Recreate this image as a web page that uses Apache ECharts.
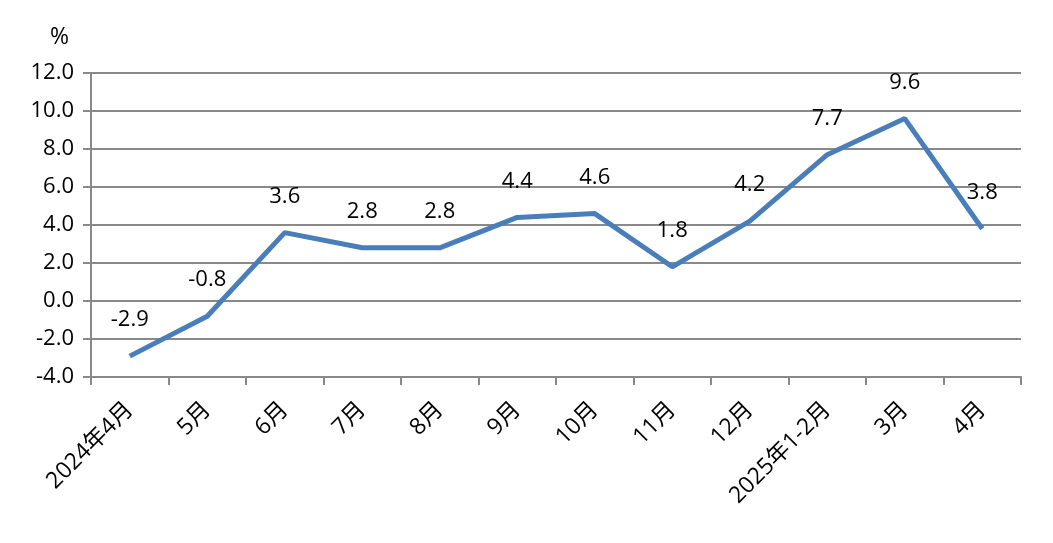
<!DOCTYPE html>
<html><head><meta charset="utf-8">
<script src="https://cdn.jsdelivr.net/npm/echarts@6/dist/echarts.min.js"></script>
<style>html,body{margin:0;padding:0;background:#fff}#c{width:1053px;height:543px}</style>
</head><body><div id="c"></div>
<script>
var categories = ['2024年4月','5月','6月','7月','8月','9月','10月','11月','12月','2025年1-2月','3月','4月'];
var values = [-2.9,-0.8,3.6,2.8,2.8,4.4,4.6,1.8,4.2,7.7,9.6,3.8];
var yTicks = {min:-4, max:12, interval:2};
var FONT = '"Open Sans","Noto Sans CJK SC",sans-serif';
var chart = echarts.init(document.getElementById('c'));
chart.setOption({
  animation:false,
  grid:{left:91,right:32,top:73,bottom:166,containLabel:false},
  xAxis:{type:'category',data:categories,boundaryGap:true,
    axisLine:{onZero:false,lineStyle:{color:'#898989',width:2}},
    axisTick:{show:true,length:8,inside:false,alignWithLabel:false,lineStyle:{color:'#898989',width:2}},
    axisLabel:{rotate:45,interval:0,color:'#000',fontSize:23,fontFamily:FONT,margin:29}
  },
  yAxis:{type:'value',min:yTicks.min,max:yTicks.max,interval:yTicks.interval,
    name:'%',nameLocation:'end',nameGap:24,nameTextStyle:{color:'#000',fontSize:23,fontFamily:FONT,align:'right',padding:[0,22,0,0]},
    axisLine:{show:true,lineStyle:{color:'#898989',width:2}},
    axisTick:{show:true,length:8,lineStyle:{color:'#898989',width:2}},
    splitLine:{lineStyle:{color:'#898989',width:2}},
    axisLabel:{color:'#000',fontSize:22,fontFamily:FONT,margin:17,formatter:function(v){return v.toFixed(1);}}
  },
  series:[{type:'line',data:values,showSymbol:true,symbol:'circle',symbolSize:2,
    itemStyle:{color:'rgba(0,0,0,0)',borderWidth:0},
    lineStyle:{color:'#4a7ebb',width:5},
    labelLayout:{hideOverlap:false},
    label:{show:true,position:'top',distance:24,color:'#000',fontSize:22,fontFamily:FONT,formatter:function(p){return Number(p.value).toFixed(1);}}
  }]
});
</script></body></html>
